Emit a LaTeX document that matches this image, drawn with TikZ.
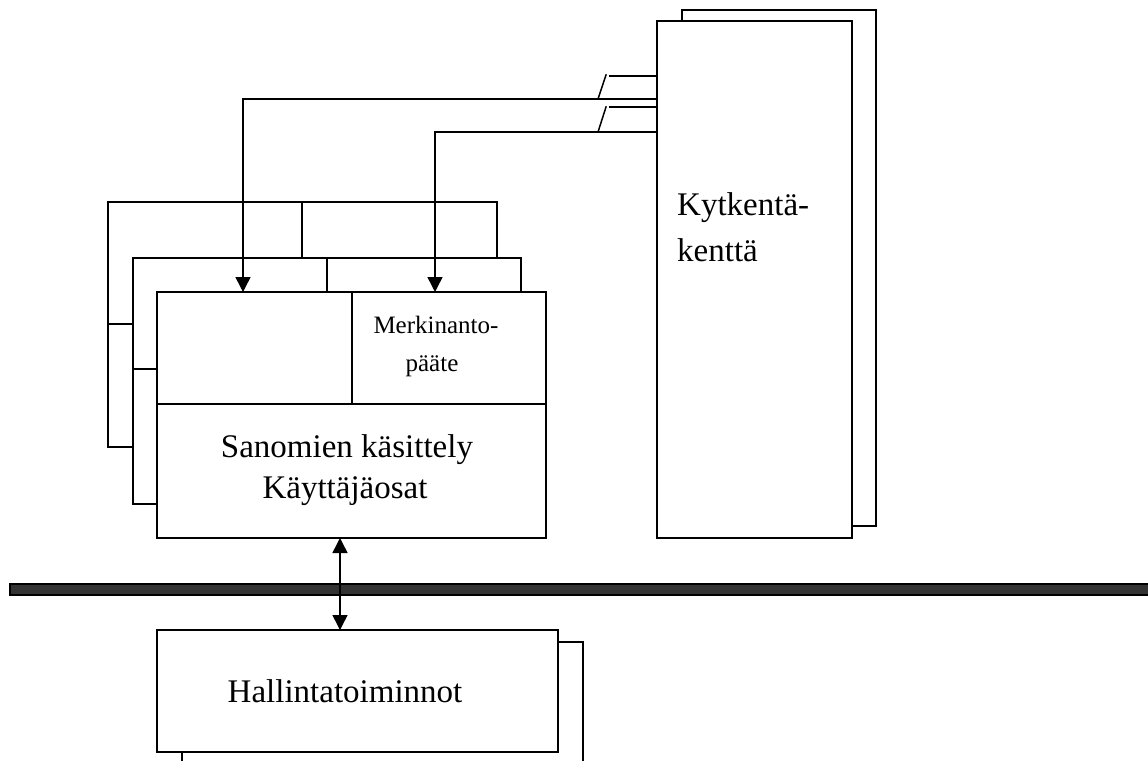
\documentclass[tikz,border=0pt]{standalone}
\usepackage{fontspec}
\setmainfont{Liberation Serif}
\usetikzlibrary{arrows.meta}
\tikzset{
  ln/.style={line width=1.5pt, line cap=rect},
  wbox/.style={ln, fill=white},
  arr/.style={ln, -{Triangle[length=15pt,width=15pt]}},
  darr/.style={ln, {Triangle[length=15pt,width=15pt]}-{Triangle[length=15pt,width=15pt]}},
  big/.style={font=\fontsize{33}{40}\selectfont, inner sep=0pt, anchor=base},
  small/.style={font=\fontsize{25}{36}\selectfont, inner sep=0pt, anchor=base},
}
\begin{document}
\begin{tikzpicture}[x=1pt,y=-1pt]
\useasboundingbox (0,0) rectangle (1148,760);
% Kytkentakentta stack
\draw[wbox] (682,10) rectangle (876,526);
\draw[wbox] (657,21) rectangle (852,538);
\node[big, anchor=base west] (kyt1) at (677,215) {Kytkentä-};
\node[big, anchor=base west] (kyt2) at (677,261) {kenttä};
% left stack, third layer
\draw[wbox] (108,202) rectangle (497,447);
\draw[ln] (302,202) -- (302,324);
\draw[ln] (108,324) -- (497,324);
% second layer
\draw[wbox] (133,258) rectangle (521,504);
\draw[ln] (327,258) -- (327,369);
\draw[ln] (133,369) -- (521,369);
% front layer
\draw[wbox] (157,292) rectangle (546,538);
\draw[ln] (352,292) -- (352,404);
\draw[ln] (157,404) -- (546,404);
\coordinate (ftopA) at (243,292);
\coordinate (ftopB) at (435,292);
\coordinate (fbot) at (340,538);
\node[small] (merk1) at (436,333) {Merkinanto-};
\node[small] (merk2) at (432,371) {pääte};
\node[big] (san1) at (347,457) {Sanomien käsittely};
\node[big] (san2) at (345,498) {Käyttäjäosat};
% connectors from switching field
\coordinate (k1) at (657,99);
\coordinate (k2) at (655,132);
\draw[arr] (k1) -| (ftopA);
\draw[arr] (k2) -| (ftopB);
% switch symbols
\coordinate (s1a) at (598,99);
\coordinate (s1b) at (606,75);
\coordinate (s2a) at (598,132);
\coordinate (s2b) at (606,107);
\coordinate (t1a) at (610,76);
\coordinate (t1b) at (655,76);
\coordinate (t2a) at (610,107);
\coordinate (t2b) at (655,107);
\draw[ln] (s1a) -- (s1b);
\draw[ln] (s2a) -- (s2b);
\draw[ln] (t1a) -- (t1b);
\draw[ln] (t2a) -- (t2b);
% bus bar
\draw[line width=1.5pt, fill=black!80] (10,584) rectangle (1152,595);
% Hallinta stack
\draw[ln] (182,765) -- (182,642) -- (583,642) -- (583,765);
\draw[wbox] (157,630) rectangle (558,752);
\coordinate (htop) at (340,630);
\node[big] (hal) at (345,702) {Hallintatoiminnot};
\draw[darr] (fbot) -- (htop);
\end{tikzpicture}
\end{document}
